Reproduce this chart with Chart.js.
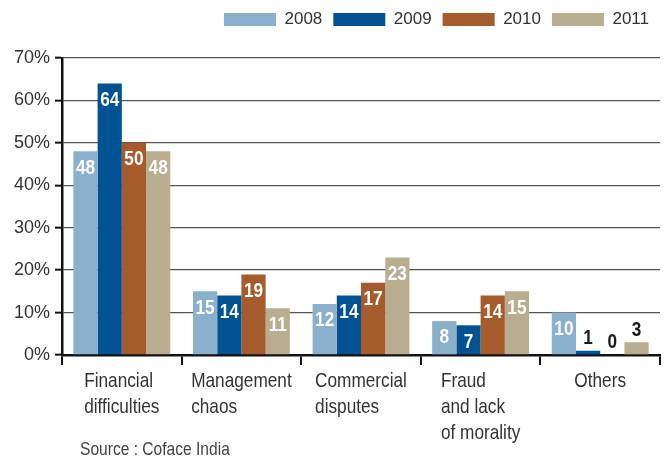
<!DOCTYPE html>
<html>
<head>
<meta charset="utf-8">
<script src="https://cdn.jsdelivr.net/npm/chart.js@4/dist/chart.umd.min.js"></script>
<style>
  html, body { margin: 0; padding: 0; background: #fff; }
  #wrap { width: 669px; height: 461px; }
</style>
</head>
<body>
<div id="wrap"><canvas id="bar-chart"></canvas></div>
<script>
const categories = [
  ["Financial", "difficulties"],
  ["Management", "chaos"],
  ["Commercial", "disputes"],
  ["Fraud", "and lack", "of morality"],
  ["Others"]
];
const years = ["2008", "2009", "2010", "2011"];
const values2008 = [48, 15, 12, 8, 10];
const values2009 = [64, 14, 14, 7, 1];
const values2010 = [50, 19, 17, 14, 0];
const values2011 = [48, 11, 23, 15, 3];
const yTicks = [0, 10, 20, 30, 40, 50, 60, 70];
const sourceText = "Source : Coface India";

const FONT = "'Liberation Sans', Arial, sans-serif";
const SQUEEZE = 0.82; // the original uses a condensed face

// draw text squeezed horizontally
function narrowText(ctx, text, x, y) {
  ctx.save();
  ctx.translate(x, y);
  ctx.scale(SQUEEZE, 1);
  ctx.fillText(text, 0, 0);
  ctx.restore();
}

// more room under the legend
const legendGap = {
  id: "legendGap",
  beforeInit(chart) {
    const fit = chart.legend.fit;
    chart.legend.fit = function () {
      fit.bind(chart.legend)();
      this.height += 20;
    };
  }
};

// numbers on / above the bars, category names and the source line
const labelPlugin = {
  id: "barLabels",
  afterDatasetsDraw(chart) {
    const ctx = chart.ctx;
    ctx.save();
    ctx.font = "bold 21px " + FONT;
    ctx.textAlign = "center";
    chart.data.datasets.forEach((ds, i) => {
      const meta = chart.getDatasetMeta(i);
      meta.data.forEach((bar, j) => {
        const v = ds.data[j];
        if (v >= 5) {
          ctx.fillStyle = "#ffffff";
          ctx.textBaseline = "top";
          narrowText(ctx, v, bar.x, bar.y + 6);
        } else {
          ctx.fillStyle = "#1a1a1a";
          ctx.textBaseline = "bottom";
          narrowText(ctx, v, bar.x, bar.y - 2);
        }
      });
    });
    ctx.restore();
  },
  afterDraw(chart) {
    const ctx = chart.ctx;
    const xScale = chart.scales.x;
    const bottom = chart.chartArea.bottom;
    ctx.save();
    ctx.font = "21px " + FONT;
    ctx.fillStyle = "#333333";
    ctx.textBaseline = "middle";
    ctx.textAlign = "left";
    categories.forEach((lines, i) => {
      const cx = xScale.getPixelForValue(i);
      const w = Math.max(...lines.map(l => ctx.measureText(l).width)) * SQUEEZE;
      lines.forEach((l, k) => {
        narrowText(ctx, l, cx - w / 2, bottom + 26 + k * 26);
      });
    });
    ctx.font = "19px " + FONT;
    ctx.fillStyle = "#444444";
    narrowText(ctx, sourceText, 80, 450);
    ctx.restore();
  }
};

new Chart(document.getElementById("bar-chart"), {
  type: "bar",
  data: {
    labels: categories,
    datasets: [
      { label: years[0], data: values2008, backgroundColor: "#8ab0cb" },
      { label: years[1], data: values2009, backgroundColor: "#005293" },
      { label: years[2], data: values2010, backgroundColor: "#a65b2c" },
      { label: years[3], data: values2011, backgroundColor: "#b8ad8e" }
    ]
  },
  options: {
    responsive: true,
    maintainAspectRatio: false,
    animation: false,
    layout: { padding: { top: 0, left: 9, right: 9, bottom: 96 } },
    datasets: {
      bar: { categoryPercentage: 0.81, barPercentage: 1.0 }
    },
    plugins: {
      legend: {
        position: "top",
        align: "end",
        labels: {
          boxWidth: 52,
          boxHeight: 13,
          padding: 11,
          color: "#333333",
          font: { family: FONT, size: 17 }
        }
      },
      tooltip: { enabled: false }
    },
    scales: {
      x: {
        ticks: { display: false },
        grid: {
          drawOnChartArea: false,
          drawTicks: true,
          tickLength: 10,
          color: "#111111",
          lineWidth: 2
        },
        border: { display: true, color: "#111111", width: 2.5 }
      },
      y: {
        min: 0,
        max: 70,
        afterBuildTicks(scale) {
          scale.ticks = yTicks.map(v => ({ value: v }));
        },
        ticks: {
          padding: 5,
          color: "#333333",
          font: { family: FONT, size: 18 },
          callback: v => v + "%"
        },
        grid: {
          color: "#555555",
          lineWidth: 1.3,
          tickLength: 7,
          tickColor: "#111111",
          tickWidth: 2
        },
        border: { display: true, color: "#111111", width: 2.5 }
      }
    }
  },
  plugins: [legendGap, labelPlugin]
});
</script>
</body>
</html>
